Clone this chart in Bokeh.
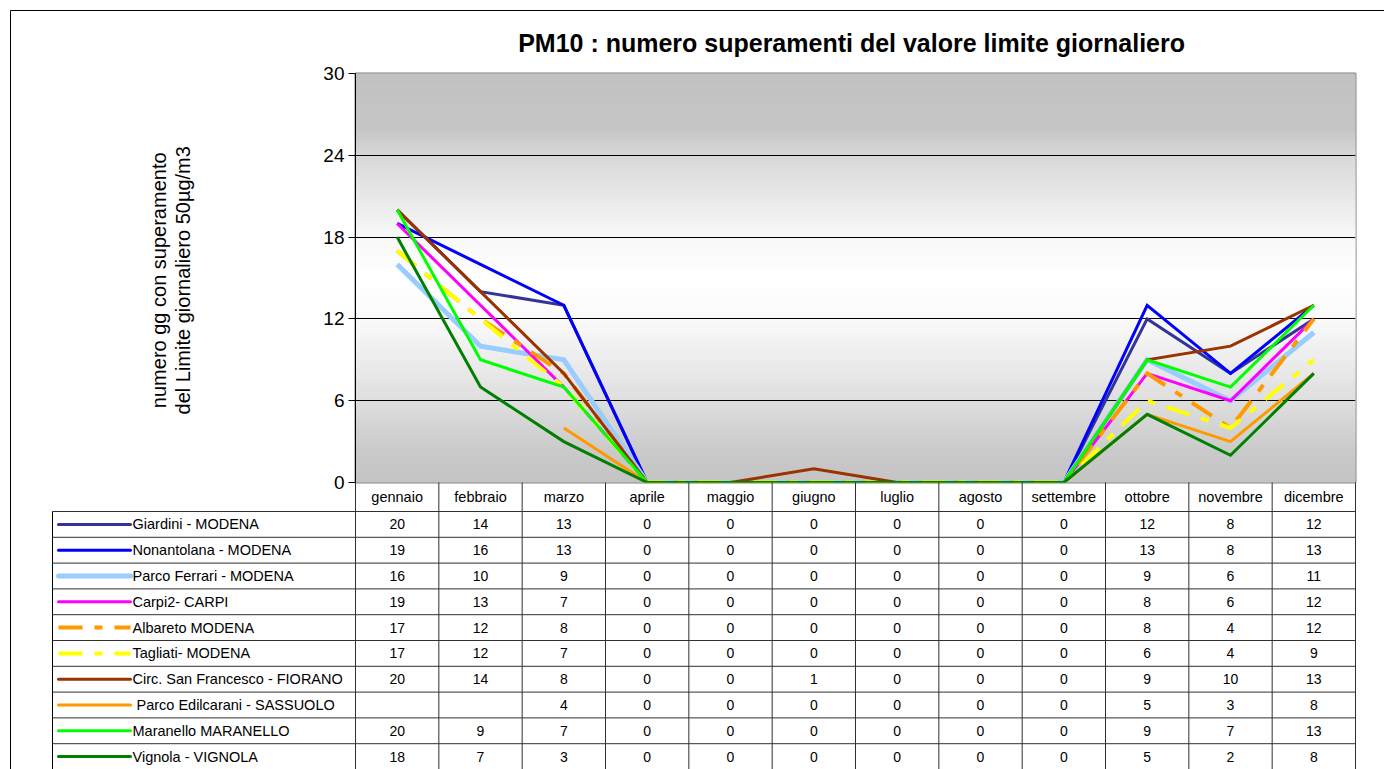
import math
from bokeh.plotting import figure
from bokeh.models import Range1d, FixedTicker
from bokeh.core.properties import value
from bokeh.embed import file_html
from bokeh.resources import INLINE

NaN = float("nan")

months = ["gennaio", "febbraio", "marzo", "aprile", "maggio", "giugno",
          "luglio", "agosto", "settembre", "ottobre", "novembre", "dicembre"]

stations = ["Giardini  - MODENA", "Nonantolana - MODENA", "Parco Ferrari - MODENA",
            "Carpi2- CARPI", "Albareto MODENA", "Tagliati- MODENA",
            "Circ. San Francesco - FIORANO", " Parco Edilcarani - SASSUOLO",
            "Maranello MARANELLO", "Vignola  - VIGNOLA"]

giardini     = [20, 14, 13, 0, 0, 0, 0, 0, 0, 12, 8, 12]
nonantolana  = [19, 16, 13, 0, 0, 0, 0, 0, 0, 13, 8, 13]
parco_ferrari = [16, 10, 9, 0, 0, 0, 0, 0, 0, 9, 6, 11]
carpi2       = [19, 13, 7, 0, 0, 0, 0, 0, 0, 8, 6, 12]
albareto     = [17, 12, 8, 0, 0, 0, 0, 0, 0, 8, 4, 12]
tagliati     = [17, 12, 7, 0, 0, 0, 0, 0, 0, 6, 4, 9]
fiorano      = [20, 14, 8, 0, 0, 1, 0, 0, 0, 9, 10, 13]
sassuolo     = [NaN, NaN, 4, 0, 0, 0, 0, 0, 0, 5, 3, 8]
maranello    = [20, 9, 7, 0, 0, 0, 0, 0, 0, 9, 7, 13]
vignola      = [18, 7, 3, 0, 0, 0, 0, 0, 0, 5, 2, 8]

series = [giardini, nonantolana, parco_ferrari, carpi2, albareto, tagliati,
          fiorano, sassuolo, maranello, vignola]

y_ticks = [0, 6, 12, 18, 24, 30]

title_text = "PM10 : numero  superamenti  del valore limite giornaliero"
ylabel1 = "numero gg  con superamento"
ylabel2 = "del Limite giornaliero  50µg/m3"

# styles
colors = ["#333399", "#0000FF", "#99CCFF", "#FF00FF", "#FF9900", "#FFFF00",
          "#993300", "#FF9900", "#00FF00", "#008000"]
widths = [3, 3, 5, 3, 4, 4, 3, 3, 3, 3]
dashes = ["solid", "solid", "solid", "solid", "24 12 8 12", "24 12 8 12",
          "solid", "solid", "solid", "solid"]

FONT = value("Liberation Sans")

# layout (screen pixels)
W, H = 1384, 769
FL, FT, FW, FH = 355, 73, 1000, 409   # frame left, top, width, height
OFF = 0
PXU = FW / 12.0       # px per x unit
PYU = FH / 30.0       # px per y unit


def X(sx):
    return (sx - FL) / PXU


def Y(sy):
    return (FT + FH - sy) / PYU


p = figure(width=W, height=H, output_backend="svg", toolbar_location=None,
           x_range=Range1d(0, 12), y_range=Range1d(0, 30))
p.min_border_left = FL - OFF
p.min_border_top = FT - OFF
p.min_border_right = W - (FL - OFF) - FW
p.min_border_bottom = H - (FT - OFF) - FH
p.background_fill_color = "white"
p.border_fill_color = "white"
p.outline_line_color = "#808080"
p.outline_line_width = 2

p.xaxis.visible = False
p.xgrid.visible = False
p.yaxis.ticker = FixedTicker(ticks=y_ticks)
p.yaxis.minor_tick_line_color = None
p.yaxis.major_tick_in = 0
p.yaxis.major_tick_out = 7
p.yaxis.major_tick_line_color = "black"
p.yaxis.axis_line_color = "black"
p.yaxis.major_label_text_font = "Liberation Sans"
p.yaxis.major_label_text_font_size = "19px"
p.yaxis.major_label_text_color = "black"
p.yaxis.major_label_standoff = 4
p.ygrid.ticker = FixedTicker(ticks=y_ticks)
p.ygrid.grid_line_color = "black"
p.ygrid.grid_line_width = 1

# gradient background (gray - white - gray)
stops = [(0, 196), (2, 200), (6, 222), (12, 250), (15, 255), (18, 248),
         (24, 216), (26, 197), (30, 194)]


def shade(v):
    for (a, ca), (b, cb) in zip(stops[:-1], stops[1:]):
        if a <= v <= b:
            t = (v - a) / (b - a)
            g = int(round(ca + (cb - ca) * t))
            return "#%02x%02x%02x" % (g, g, g)
    return "#c0c0c0"


nstrip = 120
bot = [30.0 * i / nstrip for i in range(nstrip)]
top = [30.0 * (i + 1) / nstrip for i in range(nstrip)]
cols = [shade((b + t) / 2) for b, t in zip(bot, top)]
p.quad(left=0, right=12, bottom=bot, top=top, fill_color=cols, line_color=cols,
       line_width=1, level="image")

xs = [i + 0.5 for i in range(12)]
for s, c, w, d in zip(series, colors, widths, dashes):
    p.line(xs, s, line_color=c, line_width=w, line_dash=d, line_join="miter")

# ---------- data table (drawn outside the frame) ----------
LINE = "#303030"
hdr_top, hdr_bot = FT + FH, 511
row_h = 25.8
n_rows = len(stations)
table_bottom = hdr_bot + row_h * n_rows + 30
tbl_left = 52

# horizontal lines
hx0, hx1, hy = [], [], []
for k in range(0, n_rows + 1):
    hx0.append(X(tbl_left)); hx1.append(X(FL + FW)); hy.append(Y(hdr_bot + row_h * k))
p.segment(x0=hx0, y0=hy, x1=hx1, y1=hy, line_color=LINE, line_width=1, level="overlay")

# vertical lines
vx = [k for k in range(13)]
p.segment(x0=vx, y0=[Y(hdr_top)] * 13, x1=vx, y1=[Y(table_bottom)] * 13,
          line_color=LINE, line_width=1, level="overlay")
p.segment(x0=[X(tbl_left)], y0=[Y(hdr_bot)], x1=[X(tbl_left)], y1=[Y(table_bottom)],
          line_color="black", line_width=1, level="overlay")

# month headers
p.text(x=xs, y=[Y((hdr_top + hdr_bot) / 2)] * 12, text=months,
       text_align="center", text_baseline="middle", text_font=FONT,
       text_font_size="14.5px", text_color="black", level="overlay")

# rows
for k, (name, s, c, w, d) in enumerate(zip(stations, series, colors, widths, dashes)):
    cy = Y(hdr_bot + row_h * (k + 0.5))
    p.segment(x0=[X(58)], y0=[cy], x1=[X(130)], y1=[cy], line_color=c,
              line_width=w, line_dash=d, level="overlay",
              line_cap="round" if d == "solid" else "butt")
    tx = X(136) if name.startswith(" ") else X(132)
    p.text(x=[tx], y=[cy], text=[name], text_align="left", text_baseline="middle",
           text_font=FONT, text_font_size="14.5px", text_color="black", level="overlay")
    vals = ["" if (isinstance(v, float) and math.isnan(v)) else str(int(v)) for v in s]
    p.text(x=xs, y=[cy] * 12, text=vals, text_align="center", text_baseline="middle",
           text_font=FONT, text_font_size="14px", text_color="black", level="overlay")

# ---------- title and axis label ----------
p.text(x=[X(858)], y=[Y(42)], text=[title_text], text_align="center",
       text_baseline="middle", text_font=FONT, text_font_size="25px",
       text_font_style="bold", text_color="black", level="overlay")
p.text(x=[X(158)], y=[Y(277)], text=[ylabel1], angle=math.pi / 2,
       text_align="center", text_baseline="middle", text_font=FONT,
       text_font_size="20px", text_color="black", level="overlay")
p.text(x=[X(182)], y=[Y(277)], text=[ylabel2], angle=math.pi / 2,
       text_align="center", text_baseline="middle", text_font=FONT,
       text_font_size="20px", text_color="black", level="overlay")

# outer chart border
p.segment(x0=[X(10), X(10)], y0=[Y(10), Y(10)], x1=[X(1400), X(10)], y1=[Y(10), Y(800)],
          line_color="black", line_width=1, level="overlay")

open("out.html", "w").write(file_html(p, INLINE))
